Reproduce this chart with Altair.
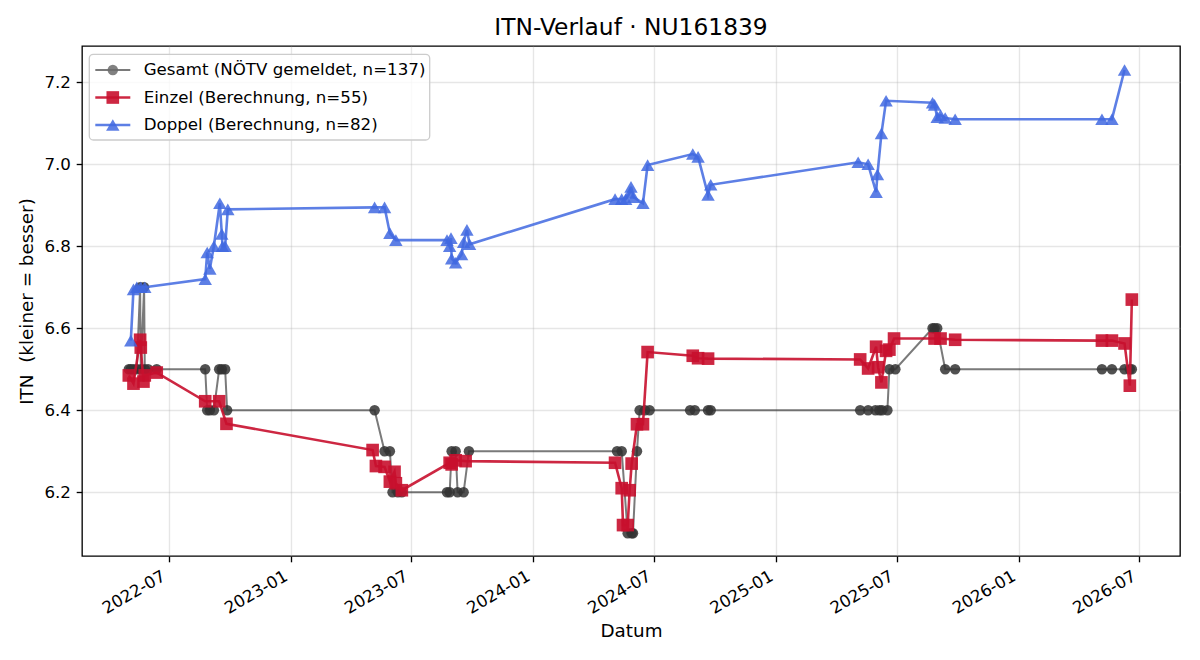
import altair as alt
import pandas as pd

FONT = "DejaVu Sans"
TITLE = "ITN-Verlauf · NU161839"

# Gesamt: ITN as reported by the NÖTV
gesamt_dates = [
    "2022-05-02", "2022-05-05", "2022-05-09", "2022-05-14", "2022-05-19", "2022-05-20",
    "2022-05-25", "2022-05-26", "2022-05-31", "2022-06-13", "2022-08-25", "2022-08-28",
    "2022-09-01", "2022-09-07", "2022-09-15", "2022-09-19", "2022-09-24", "2022-09-27",
    "2023-05-07", "2023-05-22", "2023-05-30", "2023-06-03", "2023-06-11", "2023-06-17",
    "2023-08-24", "2023-08-28", "2023-08-31", "2023-09-06", "2023-09-09", "2023-09-18",
    "2023-09-26", "2024-05-06", "2024-05-13", "2024-05-22", "2024-05-28", "2024-05-30",
    "2024-06-05", "2024-06-09", "2024-06-17", "2024-06-24", "2024-08-24", "2024-08-31",
    "2024-09-20", "2024-09-24", "2025-05-07", "2025-05-19", "2025-05-30", "2025-06-05",
    "2025-06-09", "2025-06-17", "2025-06-20", "2025-06-29", "2025-08-24", "2025-08-27",
    "2025-08-31", "2025-09-12", "2025-09-27", "2026-05-06", "2026-05-21", "2026-06-09",
    "2026-06-17", "2026-06-20",
]
gesamt_itn = [
    6.5, 6.5, 6.5, 6.5, 6.7, 6.5,
    6.7, 6.5, 6.5, 6.5, 6.5, 6.4,
    6.4, 6.4, 6.5, 6.5, 6.5, 6.4,
    6.4, 6.3, 6.3, 6.2, 6.2, 6.2,
    6.2, 6.2, 6.3, 6.3, 6.2, 6.2,
    6.3, 6.3, 6.3, 6.1, 6.1, 6.1,
    6.3, 6.4, 6.4, 6.4, 6.4, 6.4,
    6.4, 6.4, 6.4, 6.4, 6.4, 6.4,
    6.4, 6.4, 6.5, 6.5, 6.6, 6.6,
    6.6, 6.5, 6.5, 6.5, 6.5, 6.5,
    6.5, 6.5,
]

# Einzel: computed singles ITN
einzel_dates = [
    "2022-05-02", "2022-05-09", "2022-05-19", "2022-05-20", "2022-05-24", "2022-05-26",
    "2022-06-13", "2022-08-25", "2022-09-15", "2022-09-26",
    "2023-05-04", "2023-05-09", "2023-05-22", "2023-05-30", "2023-06-06", "2023-06-08",
    "2023-06-17", "2023-08-28", "2023-08-31", "2023-09-06", "2023-09-21",
    "2024-05-03", "2024-05-13", "2024-05-15", "2024-05-22", "2024-05-25", "2024-05-28",
    "2024-06-05", "2024-06-14", "2024-06-21", "2024-08-28", "2024-09-05", "2024-09-20",
    "2025-05-07", "2025-05-19", "2025-05-31", "2025-06-03", "2025-06-08", "2025-06-15",
    "2025-06-20", "2025-06-27", "2025-08-27", "2025-09-05", "2025-09-27",
    "2026-05-06", "2026-05-21", "2026-06-09", "2026-06-17", "2026-06-20",
]
einzel_itn = [
    6.485, 6.465, 6.572, 6.553, 6.47, 6.485,
    6.492, 6.422, 6.422, 6.367,
    6.303, 6.264, 6.262, 6.226, 6.25, 6.222,
    6.205, 6.272, 6.268, 6.278, 6.276,
    6.272, 6.21, 6.12, 6.12, 6.205, 6.27,
    6.366, 6.366, 6.542, 6.533, 6.527, 6.526,
    6.524, 6.502, 6.555, 6.505, 6.468, 6.545,
    6.548, 6.575, 6.575, 6.575, 6.572,
    6.57, 6.57, 6.563, 6.46, 6.67,
]

# Doppel: computed doubles ITN
doppel_dates = [
    "2022-05-05", "2022-05-09", "2022-05-14", "2022-05-20", "2022-05-26", "2022-08-25",
    "2022-08-28", "2022-09-01", "2022-09-07", "2022-09-16", "2022-09-19", "2022-09-20",
    "2022-09-24", "2022-09-28",
    "2023-05-07", "2023-05-22", "2023-05-30", "2023-06-08", "2023-08-24", "2023-08-28",
    "2023-08-30", "2023-08-31", "2023-09-06", "2023-09-15", "2023-09-18", "2023-09-23",
    "2023-09-27",
    "2024-05-03", "2024-05-13", "2024-05-19", "2024-05-25", "2024-05-27", "2024-05-31",
    "2024-06-14", "2024-06-21", "2024-08-28", "2024-09-05", "2024-09-20", "2024-09-24",
    "2025-05-04", "2025-05-19", "2025-05-31", "2025-06-02", "2025-06-08", "2025-06-15",
    "2025-08-24", "2025-08-27", "2025-08-31", "2025-09-05", "2025-09-12", "2025-09-27",
    "2026-05-06", "2026-05-21", "2026-06-09",
]
doppel_itn = [
    6.57, 6.695, 6.70, 6.70, 6.70, 6.72,
    6.785, 6.745, 6.80, 6.905, 6.83, 6.80,
    6.80, 6.89,
    6.895, 6.895, 6.832, 6.815, 6.815, 6.80,
    6.82, 6.77, 6.76, 6.78, 6.81, 6.84,
    6.805,
    6.915, 6.915, 6.915, 6.93, 6.945, 6.92,
    6.905, 6.998, 7.025, 7.018, 6.925, 6.95,
    7.005, 7.0, 6.932, 6.975, 7.075, 7.155,
    7.15, 7.145, 7.115, 7.12, 7.113, 7.11,
    7.11, 7.11, 7.23,
]

legend_labels = [
    "Gesamt (NÖTV gemeldet, n=137)",
    "Einzel (Berechnung, n=55)",
    "Doppel (Berechnung, n=82)",
]

y_ticks = [6.2, 6.4, 6.6, 6.8, 7.0, 7.2]
x_tick_months = [(2022, 7), (2023, 1), (2023, 7), (2024, 1), (2024, 7),
                 (2025, 1), (2025, 7), (2026, 1), (2026, 7)]

# Per-series styling: line colour/opacity/width, marker colour/opacity/shape/size
styles = [
    dict(line="#333333", line_op=0.65, lw=2.0, mk="#333333", mk_op=0.85, shape="circle", size=110,
         legend_mk="#6b6b6b"),
    dict(line="#c8102e", line_op=0.9, lw=2.6, mk="#c8102e", mk_op=0.9, shape="square", size=160,
         legend_mk="#c8102e"),
    dict(line="#4169e1", line_op=0.85, lw=2.6, mk="#4169e1", mk_op=0.85, shape="triangle-up", size=180,
         legend_mk="#4169e1"),
]

W, H = 1098, 510

x_enc = alt.X(
    "datum:T",
    scale=alt.Scale(
        type="utc",
        domain=[alt.DateTime(year=2022, month=2, date=20, hours=12, utc=True),
                alt.DateTime(year=2026, month=8, date=31, hours=12, utc=True)],
    ),
    axis=alt.Axis(
        title="Datum",
        values=[alt.DateTime(year=y, month=m, date=1, utc=True) for y, m in x_tick_months],
        format="%Y-%m",
        labelAngle=-30,
        labelAlign="right",
        labelBaseline="top",
        labelOffset=-9,
        labelPadding=5.8,
        titlePadding=6,
    ),
)
y_enc = alt.Y(
    "itn:Q",
    scale=alt.Scale(domain=[6.0446, 7.2885], nice=False, zero=False),
    axis=alt.Axis(
        title="ITN \u00a0(kleiner = besser)",
        values=y_ticks,
        format=".1f",
        labelPadding=5.8,
        titlePadding=7,
    ),
)

series = [
    (gesamt_dates, gesamt_itn),
    (einzel_dates, einzel_itn),
    (doppel_dates, doppel_itn),
]

layers = []
for (dates, vals), st in zip(series, styles):
    df = pd.DataFrame({"datum": dates, "itn": vals})
    base = alt.Chart(df).encode(x=x_enc, y=y_enc)
    layers.append(base.mark_line(color=st["line"], opacity=st["line_op"], strokeWidth=st["lw"]))
    layers.append(base.mark_point(shape=st["shape"], size=st["size"], filled=True,
                                  color=st["mk"], opacity=st["mk_op"], strokeWidth=0))

# Legend box in the upper-left corner of the plot area
one = pd.DataFrame({"k": [0]})
layers.append(
    alt.Chart(one).mark_rect(fill="white", fillOpacity=0.8, stroke="#cccccc", strokeWidth=1.3,
                             cornerRadius=4).encode(
        x=alt.value(7.3), x2=alt.value(347.7), y=alt.value(8.3), y2=alt.value(94)
    )
)

row_y = "24 + 27.5 * datum.row"
for i, (label, st) in enumerate(zip(legend_labels, styles)):
    ldf = pd.DataFrame({"row": [i], "label": [label]})
    lb = alt.Chart(ldf).transform_calculate(ly=row_y)
    ly = alt.Y("ly:Q", scale=None, axis=None)
    layers.append(lb.mark_rule(color=st["line"], opacity=st["line_op"], strokeWidth=st["lw"]).encode(
        x=alt.value(13.3), x2=alt.value(48.3), y=ly))
    layers.append(lb.mark_point(shape=st["shape"], size=st["size"], filled=True,
                                color=st["legend_mk"], opacity=st["mk_op"], strokeWidth=0).encode(
        x=alt.value(30.8), y=ly))
    layers.append(lb.mark_text(align="left", baseline="middle", font=FONT, fontSize=16.67,
                               color="black").encode(
        x=alt.value(61.7), y=ly, text="label:N"))

# Chart heading, centred above the plot area
layers.append(
    alt.Chart(pd.DataFrame({"title": [TITLE]})).mark_text(
        align="center", baseline="alphabetic", font=FONT, fontSize=23.33, color="black"
    ).encode(x=alt.value(W / 2), y=alt.value(-11.5), text="title:N")
)

chart = alt.layer(*layers).properties(
    width=W,
    height=H,
    autosize=alt.AutoSizeParams(type="none"),
    padding={"left": 82, "top": 46, "right": 20, "bottom": 104},
).configure(
    background="white",
    font=FONT,
).configure_view(
    stroke="black", strokeWidth=1.33,
).configure_axis(
    domain=False,
    grid=True, gridColor="#b0b0b0", gridOpacity=0.32, gridWidth=1.33,
    ticks=True, tickColor="black", tickSize=5.8, tickWidth=1.33,
    labelFont=FONT, labelFontSize=16.67, labelColor="black",
    titleFont=FONT, titleFontSize=18.33, titleFontWeight="normal", titleColor="black",
)

chart.save("out.html", embed_options={"renderer": "svg", "actions": False})
